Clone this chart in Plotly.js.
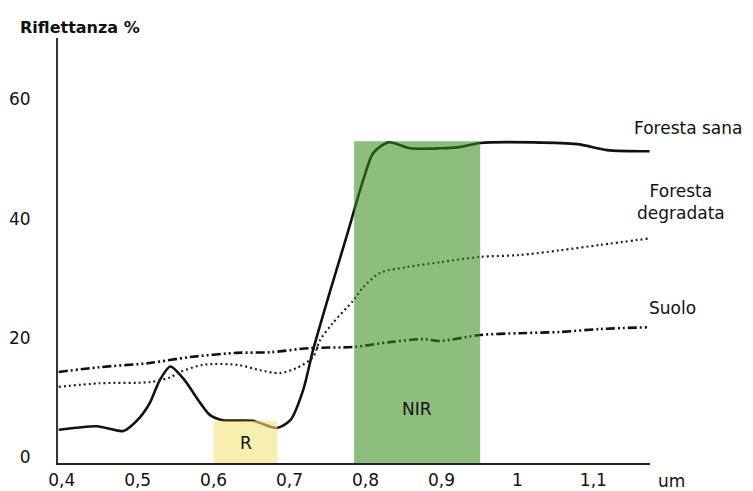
<!DOCTYPE html>
<html>
<head>
<meta charset="utf-8">
<script src="https://cdn.plot.ly/plotly-3.0.1.min.js"></script>
<style>html,body{margin:0;padding:0;background:#fff;}#chart{width:753px;height:491px;}</style>
</head>
<body>
<div id="chart"></div>
<script>
// Wavelength (um) and reflectance (%)
const sanaX = [0.396, 0.4465, 0.481, 0.503, 0.516, 0.529, 0.543, 0.562, 0.578, 0.595, 0.612, 0.652, 0.683, 0.701, 0.718, 0.731, 0.753, 0.776, 0.785, 0.797, 0.810, 0.830, 0.859, 0.898, 0.924, 0.951, 1.021, 1.079, 1.118, 1.174];
const sanaY = [4.6, 5.2, 4.4, 6.7, 9.1, 12.9, 15.2, 12.9, 9.9, 7.1, 6.2, 6.1, 4.9, 6.2, 11.3, 18.0, 27.7, 37.4, 41.4, 46.5, 51.0, 52.8, 51.8, 51.8, 52.0, 52.7, 52.8, 52.5, 51.5, 51.3];

const degrX = [0.396, 0.450, 0.516, 0.543, 0.556, 0.586, 0.631, 0.661, 0.687, 0.710, 0.731, 0.740, 0.757, 0.784, 0.797, 0.819, 0.855, 0.898, 0.951, 1.003, 1.056, 1.109, 1.174];
const degrY = [11.8, 12.4, 12.6, 13.4, 14.3, 15.5, 15.5, 14.6, 14.1, 15.0, 16.8, 19.6, 22.5, 26.3, 28.5, 30.9, 31.9, 32.7, 33.6, 33.9, 34.7, 35.6, 36.7];

const suoloX = [0.396, 0.450, 0.516, 0.569, 0.631, 0.674, 0.727, 0.785, 0.832, 0.876, 0.898, 0.951, 1.003, 1.056, 1.109, 1.174];
const suoloY = [14.3, 15.1, 15.8, 16.8, 17.5, 17.6, 18.3, 18.5, 19.3, 19.8, 19.5, 20.5, 20.8, 21.0, 21.5, 21.8];

// Bands
const bandNames = ['R', 'NIR'];
const bandStart = [0.600, 0.785];
const bandEnd = [0.684, 0.951];
const bandTop = [6.1, 53.0];
const bandLabelY = [2.4, 8.1];

// Axis ticks
const xTickVals = [0.4, 0.5, 0.6, 0.7, 0.8, 0.9, 1.0, 1.1];
const xTickText = ['0,4', '0,5', '0,6', '0,7', '0,8', '0,9', '1', '1,1'];
const yTickVals = [0, 20, 40, 60];

// Series labels (placed in paper fractions, to the right of the plot)
const seriesNames = ['Foresta sana', 'Foresta<br>degradata', 'Suolo'];
const seriesLabelX = [1.0642, 1.0524, 1.0372];
const seriesLabelY = [0.788, 0.615, 0.365];

const FONT = 'DejaVu Sans, sans-serif';

const traces = [
  {x: sanaX, y: sanaY, mode: 'lines', line: {color: '#111', width: 2.6, shape: 'spline', smoothing: 0.7}, hoverinfo: 'skip'},
  {x: degrX, y: degrY, mode: 'lines', line: {color: '#222', width: 2.2, dash: '2px,3px', shape: 'spline', smoothing: 0.8}, hoverinfo: 'skip'},
  {x: suoloX, y: suoloY, mode: 'lines', line: {color: '#111', width: 2.6, dash: '9px,3px,2px,3px,2px,3px', shape: 'spline', smoothing: 0.8}, hoverinfo: 'skip'}
];

const bandFill = ['rgba(243,227,123,0.6)', 'rgba(51,139,24,0.56)'];
const shapes = bandNames.map((n, i) => ({
  type: 'rect', xref: 'x', yref: 'y', layer: 'above',
  x0: bandStart[i], x1: bandEnd[i], y0: -0.97, y1: bandTop[i],
  fillcolor: bandFill[i], line: {width: 0}
}));

const annotations = [];
bandNames.forEach((n, i) => annotations.push({
  text: n, x: (bandStart[i] + bandEnd[i]) / 2, y: bandLabelY[i], xref: 'x', yref: 'y',
  showarrow: false, font: {family: FONT, size: 17, color: '#111'}
}));
seriesNames.forEach((n, i) => annotations.push({
  text: n, x: seriesLabelX[i], y: seriesLabelY[i], xref: 'paper', yref: 'paper',
  xanchor: 'center', yanchor: 'middle',
  showarrow: false, align: 'center', font: {family: FONT, size: 17, color: '#111'}
}));
annotations.push({
  text: 'um', x: 1.0355, y: 0, xref: 'paper', yref: 'paper', xanchor: 'center', yanchor: 'top', yshift: -6,
  showarrow: false, font: {family: FONT, size: 17, color: '#111'}
});

const layout = {
  width: 753, height: 491,
  margin: {l: 58, r: 103, t: 38, b: 28},
  paper_bgcolor: '#fff', plot_bgcolor: '#fff',
  showlegend: false,
  title: {text: 'Riflettanza %', x: 20 / 753, xanchor: 'left', y: 1 - 27 / 491, yanchor: 'middle',
          font: {family: FONT, size: 16, weight: 'bold', color: '#111'}},
  xaxis: {
    range: [0.3951, 1.1746], showgrid: false, zeroline: false,
    showline: true, linecolor: '#222', linewidth: 2,
    tickvals: xTickVals, ticktext: xTickText, ticks: '',
    ticklabelstandoff: 1,
    tickfont: {family: FONT, size: 17, color: '#111'}
  },
  yaxis: {
    range: [-0.97, 70.3], showgrid: false, zeroline: false,
    showline: true, linecolor: '#333', linewidth: 2,
    tickvals: yTickVals, ticks: '',
    ticklabelstandoff: 22,
    tickfont: {family: FONT, size: 17, color: '#111'}
  },
  shapes: shapes,
  annotations: annotations
};

Plotly.newPlot('chart', traces, layout, {staticPlot: true, displayModeBar: false});
</script>
</body>
</html>
